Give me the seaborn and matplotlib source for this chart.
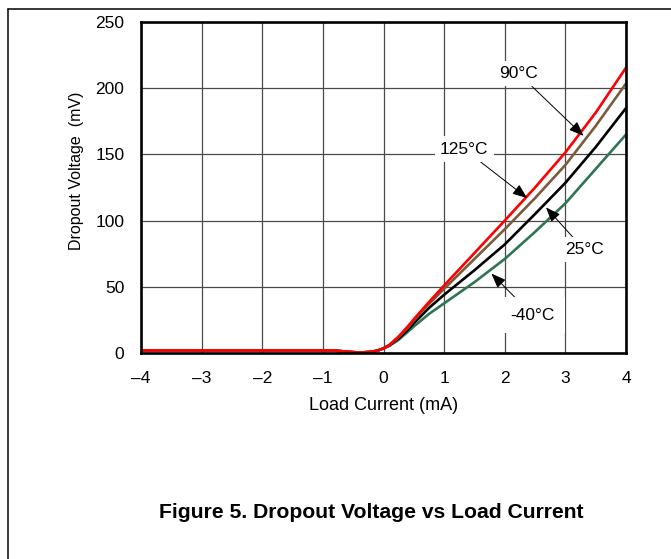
import matplotlib
matplotlib.use("Agg")
import matplotlib.pyplot as plt
from matplotlib.lines import Line2D
import numpy as np
import pandas as pd
import seaborn as sns

# Load current (mA) sample points
current_ma = [-4.0, -3.0, -2.0, -1.0, -0.8, -0.6, -0.4, -0.2, -0.1, 0.0, 0.1,
              0.25, 0.4, 0.5, 0.75, 1.0, 1.5, 2.0, 2.5, 3.0, 3.5, 4.0]

# Dropout voltage (mV) per temperature
dropout_m40 = [2.0, 2.0, 2.0, 2.0, 1.8, 1.0, 0.3, 0.9, 1.8, 3.5, 5.5,
               10.0, 16.0, 20.0, 29.5, 37.5, 53.5, 71.0, 91.5, 113.0, 139.0, 165.0]
dropout_25 = [2.0, 2.0, 2.0, 2.0, 1.8, 1.0, 0.3, 0.9, 1.8, 3.5, 5.8,
              11.0, 17.5, 22.5, 34.0, 44.0, 62.5, 82.0, 105.0, 128.5, 155.5, 185.0]
dropout_90 = [2.0, 2.0, 2.0, 2.0, 1.8, 1.0, 0.3, 0.9, 1.8, 3.5, 6.0,
              12.0, 19.0, 24.5, 37.0, 48.5, 71.0, 93.5, 117.0, 142.0, 171.5, 203.5]
dropout_125 = [2.0, 2.0, 2.0, 2.0, 1.8, 1.0, 0.3, 0.9, 1.8, 3.5, 6.2,
               12.5, 20.0, 25.5, 38.5, 51.0, 75.5, 100.0, 125.0, 151.5, 181.5, 215.5]

temps = ["-40°C", "25°C", "90°C", "125°C"]
series = [dropout_m40, dropout_25, dropout_90, dropout_125]
colors = ["#2E7553", "#000000", "#7A5C3C", "#FF0000"]

x_ticks = [-4, -3, -2, -1, 0, 1, 2, 3, 4]
x_tick_labels = ["\u20134", "\u20133", "\u20132", "\u20131", "0", "1", "2", "3", "4"]
y_ticks = [0, 50, 100, 150, 200, 250]

# callout label text, label centre, arrow tip, white box padding
callouts = [
    ("90°C", (2.23, 211.0), (3.30, 164.0), 0.3),
    ("125°C", (1.33, 154.0), (2.37, 117.0), 0.3),
    ("25°C", (3.31, 78.0), (2.68, 110.0), 0.3),
    ("-40°C", (2.46, 28.5), (1.78, 60.0), 0.6),
]

df = pd.concat(
    [pd.DataFrame({"current": current_ma, "dropout": vals, "temp": t})
     for t, vals in zip(temps, series)],
    ignore_index=True,
)

sns.set_theme(style="white")
plt.rcParams["font.family"] = ["Liberation Sans", "DejaVu Sans"]

fig = plt.figure(figsize=(6.71, 5.59), dpi=100)
ax = fig.add_axes([141 / 671, 1 - 353 / 559, 485 / 671, 331 / 559])

sns.lineplot(
    data=df, x="current", y="dropout", hue="temp", hue_order=temps,
    palette=dict(zip(temps, colors)), estimator=None, sort=False,
    linewidth=1.9, legend=False, ax=ax,
)
for line in ax.get_lines():
    line.set_solid_joinstyle("round")
    line.set_solid_capstyle("round")

ax.set_xlim(-4, 4)
ax.set_ylim(0, 250)
ax.set_xticks(x_ticks)
ax.set_xticklabels(x_tick_labels)
ax.set_yticks(y_ticks)
ax.tick_params(axis="both", length=0, labelsize=12.5, colors="black")
ax.tick_params(axis="x", pad=13)
ax.tick_params(axis="y", pad=12)

ax.set_axisbelow(True)
ax.grid(True, color="#4a4a4a", linewidth=0.9)
for side in ["left", "right", "top", "bottom"]:
    ax.spines[side].set_visible(True)
    ax.spines[side].set_color("black")
    ax.spines[side].set_linewidth(1.9)

ax.set_xlabel("Load Current (mA)", fontsize=13, color="black")
ax.set_ylabel("Dropout Voltage  (mV)", fontsize=11.5, color="black")
ax.xaxis.label.set_va("center")
ax.yaxis.label.set_va("center")
ax.xaxis.set_label_coords(0.5, -0.16)
ax.yaxis.set_label_coords(-0.132, 0.55)

for text, pos, tip, pad in callouts:
    ax.annotate(
        text, xy=tip, xytext=pos, ha="center", va="center",
        fontsize=12.5, color="black",
        bbox=dict(boxstyle=f"square,pad={pad}", fc="white", ec="none"),
        arrowprops=dict(arrowstyle="-|>,head_length=0.9,head_width=0.35",
                        mutation_scale=10, color="black", lw=0.7,
                        shrinkA=0, shrinkB=0),
        zorder=4,
    )

fig.text(371 / 671, 1 - 512 / 559, "Figure 5. Dropout Voltage vs Load Current",
         ha="center", va="center", fontsize=15.2, fontweight="bold", color="black")

# page frame lines
fig.add_artist(Line2D([7.5 / 671, 1.0], [1 - 8.5 / 559, 1 - 8.5 / 559],
                      transform=fig.transFigure, color="black", lw=1.1))
fig.add_artist(Line2D([7.5 / 671, 7.5 / 671], [0.0, 1 - 8.5 / 559],
                      transform=fig.transFigure, color="black", lw=1.1))

fig.savefig("out.png", dpi=100, facecolor="white")
